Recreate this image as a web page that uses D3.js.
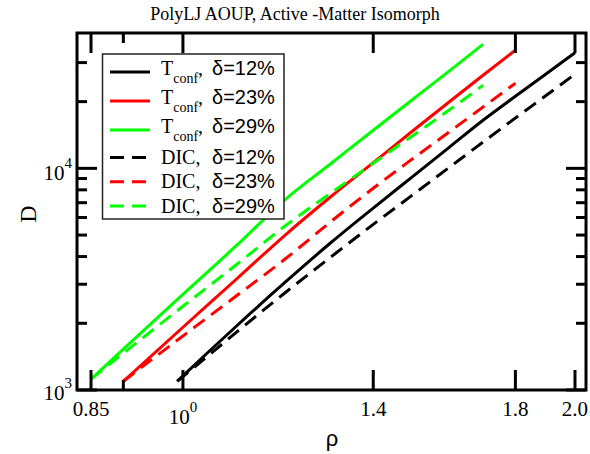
<!DOCTYPE html>
<html>
<head>
<meta charset="utf-8">
<script src="https://cdn.jsdelivr.net/npm/d3@7"></script>
<style>
  body { margin: 0; background: #fff; }
  svg text { font-family: "Liberation Serif", "Times New Roman", serif; fill: #000; }
</style>
</head>
<body>
<div id="chart"></div>
<script>
// data
var rho29 = [0.85, 0.9, 1.0, 1.1, 1.2, 1.3, 1.4, 1.5, 1.6, 1.7];
var rho23 = [0.9, 1.0, 1.1, 1.2, 1.3, 1.4, 1.5, 1.6, 1.7, 1.8];
var rho12 = [0.99, 1.0, 1.1, 1.2, 1.3, 1.4, 1.5, 1.6, 1.7, 1.8, 1.9, 2.0];

var tconf29 = [1120, 1530, 2700, 4500, 7290, 10550, 14860, 20400, 27400, 36300];
var tconf23 = [1095, 1919, 3176, 5042, 7482, 10610, 14700, 19880, 26310, 34120];
var tconf12 = [1095, 1158, 1949, 3088, 4640, 6620, 9155, 12400, 16490, 21150, 26670, 33240];
var dic29 = [1120, 1464, 2386, 3692, 5536, 7768, 10545, 14000, 18270, 23700];
var dic23 = [1095, 1753, 2667, 3929, 5771, 8133, 11015, 14550, 18910, 24210];
var dic12 = [1095, 1149, 1829, 2769, 3996, 5588, 7569, 10060, 13140, 16870, 21300, 26610];

var xMajor = [0.85, 1.0, 1.4, 1.8, 2.0];
var xMinor = [0.9];
var xLabelVals = [0.85, 1.4, 1.8, 2.0];
var xLabels = ["0.85", "1.4", "1.8", "2.0"];
var yMajor = [1000, 10000];
var yMinor = [2000, 3000, 4000, 5000, 6000, 7000, 8000, 9000, 20000, 30000];

var series = [
  {rho: rho12, d: tconf12, color: "#000000", dash: null, name: "T", sub: "conf", delta: "12%"},
  {rho: rho23, d: tconf23, color: "#ff0000", dash: null, name: "T", sub: "conf", delta: "23%"},
  {rho: rho29, d: tconf29, color: "#00ff00", dash: null, name: "T", sub: "conf", delta: "29%"},
  {rho: rho12, d: dic12, color: "#000000", dash: "14,8", name: "DIC,", sub: null, delta: "12%"},
  {rho: rho23, d: dic23, color: "#ff0000", dash: "14,8", name: "DIC,", sub: null, delta: "23%"},
  {rho: rho29, d: dic29, color: "#00ff00", dash: "14,8", name: "DIC,", sub: null, delta: "29%"}
];

////////////////////////////////////////////////////////////
//////////////////////// Setup /////////////////////////////
////////////////////////////////////////////////////////////
var W = 590, H = 454;
var pLeft = 77, pRight = 586, pTop = 33, pBottom = 390;

var x = d3.scaleLog().domain([0.8292, 2.0393]).range([pLeft, pRight]);
var y = d3.scaleLog().domain([1000, 40800]).range([pBottom, pTop]);

var svg = d3.select("#chart").append("svg")
  .attr("width", W).attr("height", H);

// title
svg.append("text")
  .attr("x", 295).attr("y", 20)
  .attr("text-anchor", "middle")
  .style("font-size", "18px")
  .text("PolyLJ AOUP, Active -Matter Isomorph");

////////////////////////////////////////////////////////////
//////////////////////// Lines /////////////////////////////
////////////////////////////////////////////////////////////
var line = d3.line()
  .x(function(d) { return x(d[0]); })
  .y(function(d) { return y(d[1]); })
  .curve(d3.curveMonotoneX);

series.forEach(function(s) {
  var pts = s.rho.map(function(r, i) { return [r, s.d[i]]; });
  svg.append("path")
    .datum(pts)
    .attr("d", line)
    .attr("fill", "none")
    .attr("stroke", s.color)
    .attr("stroke-width", 3)
    .attr("stroke-dasharray", s.dash);
});

////////////////////////////////////////////////////////////
//////////////////////// Axes //////////////////////////////
////////////////////////////////////////////////////////////
var ticks = svg.append("g").attr("stroke", "#000").attr("stroke-width", 3);

function xTick(v, len) {
  ticks.append("line").attr("x1", x(v)).attr("x2", x(v)).attr("y1", pBottom).attr("y2", pBottom - len);
  ticks.append("line").attr("x1", x(v)).attr("x2", x(v)).attr("y1", pTop).attr("y2", pTop + len);
}
function yTick(v, len) {
  ticks.append("line").attr("y1", y(v)).attr("y2", y(v)).attr("x1", pLeft).attr("x2", pLeft + len);
  ticks.append("line").attr("y1", y(v)).attr("y2", y(v)).attr("x1", pRight).attr("x2", pRight - len);
}
xMajor.forEach(function(v) { xTick(v, 20); });
xMinor.forEach(function(v) { xTick(v, 10); });
yMajor.forEach(function(v) { yTick(v, 20); });
yMinor.forEach(function(v) { yTick(v, 10); });

svg.append("rect")
  .attr("x", pLeft).attr("y", pTop)
  .attr("width", pRight - pLeft).attr("height", pBottom - pTop)
  .attr("fill", "none").attr("stroke", "#000").attr("stroke-width", 3);

// x tick labels
xLabelVals.forEach(function(v, i) {
  svg.append("text")
    .attr("x", x(v)).attr("y", 416)
    .attr("text-anchor", "middle")
    .style("font-size", "21px")
    .text(xLabels[i]);
});

function powLabel(px, py, exp, anchor) {
  var t = svg.append("text")
    .attr("x", px).attr("y", py)
    .attr("text-anchor", anchor)
    .style("font-size", "21px");
  t.append("tspan").text("10");
  t.append("tspan").attr("dy", -12).style("font-size", "15px").text(exp);
}
powLabel(x(1.0), 424, "0", "middle");
powLabel(72, 180, "4", "end");
powLabel(72, 400, "3", "end");

// axis titles
svg.append("text")
  .attr("x", 332).attr("y", 446)
  .attr("text-anchor", "middle")
  .style("font-family", "'Liberation Sans', Arial, sans-serif")
  .style("font-size", "22px")
  .text("ρ");

svg.append("text")
  .attr("transform", "translate(36,214) rotate(-90)")
  .attr("text-anchor", "middle")
  .style("font-size", "24px")
  .text("D");

////////////////////////////////////////////////////////////
//////////////////////// Legend ////////////////////////////
////////////////////////////////////////////////////////////
var legY = [72, 101, 130, 157.5, 181.7, 206];
var leg = svg.append("g");
leg.append("rect")
  .attr("x", 102.5).attr("y", 54)
  .attr("width", 181.5).attr("height", 165)
  .attr("fill", "#fff").attr("stroke", "#222").attr("stroke-width", 1.5);

series.forEach(function(s, i) {
  var ly = legY[i];
  leg.append("line")
    .attr("x1", 110).attr("x2", 150)
    .attr("y1", ly).attr("y2", ly)
    .attr("stroke", s.color).attr("stroke-width", 3)
    .attr("stroke-dasharray", s.dash);
  var base = s.sub ? ly + 3 : ly + 6.5;
  var t = leg.append("text")
    .attr("x", 161).attr("y", base)
    .style("font-size", "20px");
  t.append("tspan").text(s.name);
  if (s.sub) {
    t.append("tspan").attr("dy", 8).style("font-size", "14px").text(s.sub);
    t.append("tspan").attr("dy", -8).text(",");
  }
  t.append("tspan")
    .attr("x", 212)
    .style("font-family", "'Liberation Sans', Arial, sans-serif")
    .text("δ=" + s.delta);
});
</script>
</body>
</html>
